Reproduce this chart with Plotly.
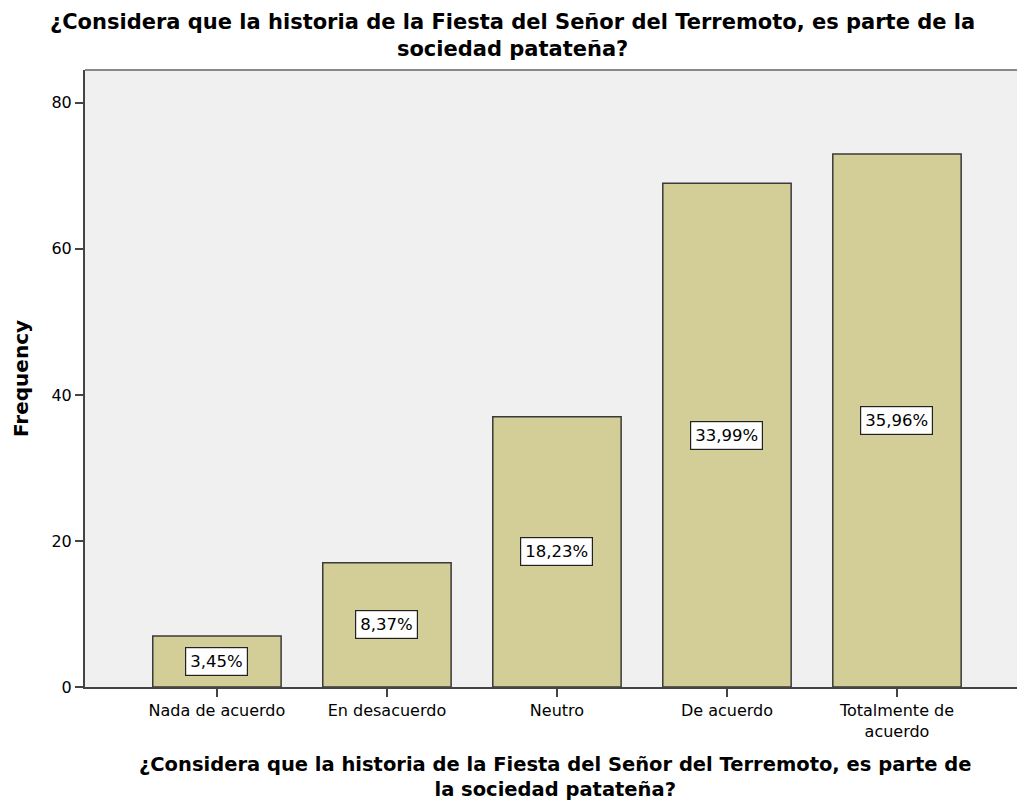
import plotly.graph_objects as go

categories = ["Nada de acuerdo", "En desacuerdo", "Neutro", "De acuerdo", "Totalmente de<br>acuerdo"]
frequencies = [7, 17, 37, 69, 73]
y_ticks = [0, 20, 40, 60, 80]

total = sum(frequencies)
pct_labels = [f"{v / total * 100:.2f}%".replace(".", ",") for v in frequencies]

title_text = "¿Considera que la historia de la Fiesta del Señor del Terremoto, es parte de la<br>sociedad patateña?"
xtitle_text = "¿Considera que la historia de la Fiesta del Señor del Terremoto, es parte de<br>la sociedad patateña?"

W, H = 1017, 796          # page adds an 8px body margin
ML, MT, MB = 77, 62, 117
plot_w = W - ML

fig = go.Figure()
fig.add_trace(go.Bar(
    x=list(range(len(categories))),
    y=frequencies,
    width=0.755,
    marker=dict(color="#D3CE97", line=dict(color="#3a3a3a", width=1.5)),
    hoverinfo="skip",
))

for i, (v, lab) in enumerate(zip(frequencies, pct_labels)):
    fig.add_annotation(
        x=i, y=v / 2, text=lab, showarrow=False,
        font=dict(family="DejaVu Sans", size=16.5, color="black"),
        bgcolor="white", bordercolor="#222", borderwidth=1.2, borderpad=4,
    )

# chart title (centred on the page)
fig.add_annotation(
    xref="paper", yref="paper", x=(W / 2 - 4 - ML) / plot_w, y=1,
    xanchor="center", yanchor="top", yshift=MT - 1, showarrow=False,
    text=title_text, align="center", borderpad=0,
    font=dict(family="DejaVu Sans", size=21, color="black", weight="bold"),
)
# x axis title
fig.add_annotation(
    xref="paper", yref="paper", x=0.5, y=0,
    xanchor="center", yanchor="top", yshift=-65, showarrow=False,
    text=xtitle_text, align="center", borderpad=0,
    font=dict(family="DejaVu Sans", size=19.5, color="black", weight="bold"),
)

fig.add_shape(type="line", xref="paper", yref="paper", x0=0, x1=1, y0=1, y1=1,
              line=dict(color="#888", width=2))

fig.update_layout(
    width=W, height=H,
    margin=dict(l=ML, r=0, t=MT, b=MB),
    paper_bgcolor="white",
    plot_bgcolor="#F0F0F0",
    showlegend=False,
    xaxis=dict(
        tickmode="array", tickvals=list(range(len(categories))), ticktext=categories,
        range=[-0.776, 4.753],
        showgrid=False, zeroline=False,
        showline=True, linecolor="#444", linewidth=2,
        ticks="outside", ticklen=8, tickwidth=2, tickcolor="#444",
        tickfont=dict(family="DejaVu Sans", size=16, color="black"),
    ),
    yaxis=dict(
        range=[0, 84.5], tickmode="array", tickvals=y_ticks,
        showgrid=False, zeroline=False,
        showline=True, linecolor="#444", linewidth=2,
        ticks="outside", ticklen=8, tickwidth=2, tickcolor="#444",
        tickfont=dict(family="DejaVu Sans", size=16, color="black"),
        title=dict(text="Frequency", standoff=17,
                   font=dict(family="DejaVu Sans", size=20, color="black", weight="bold")),
    ),
)

fig.write_html("out.html")
